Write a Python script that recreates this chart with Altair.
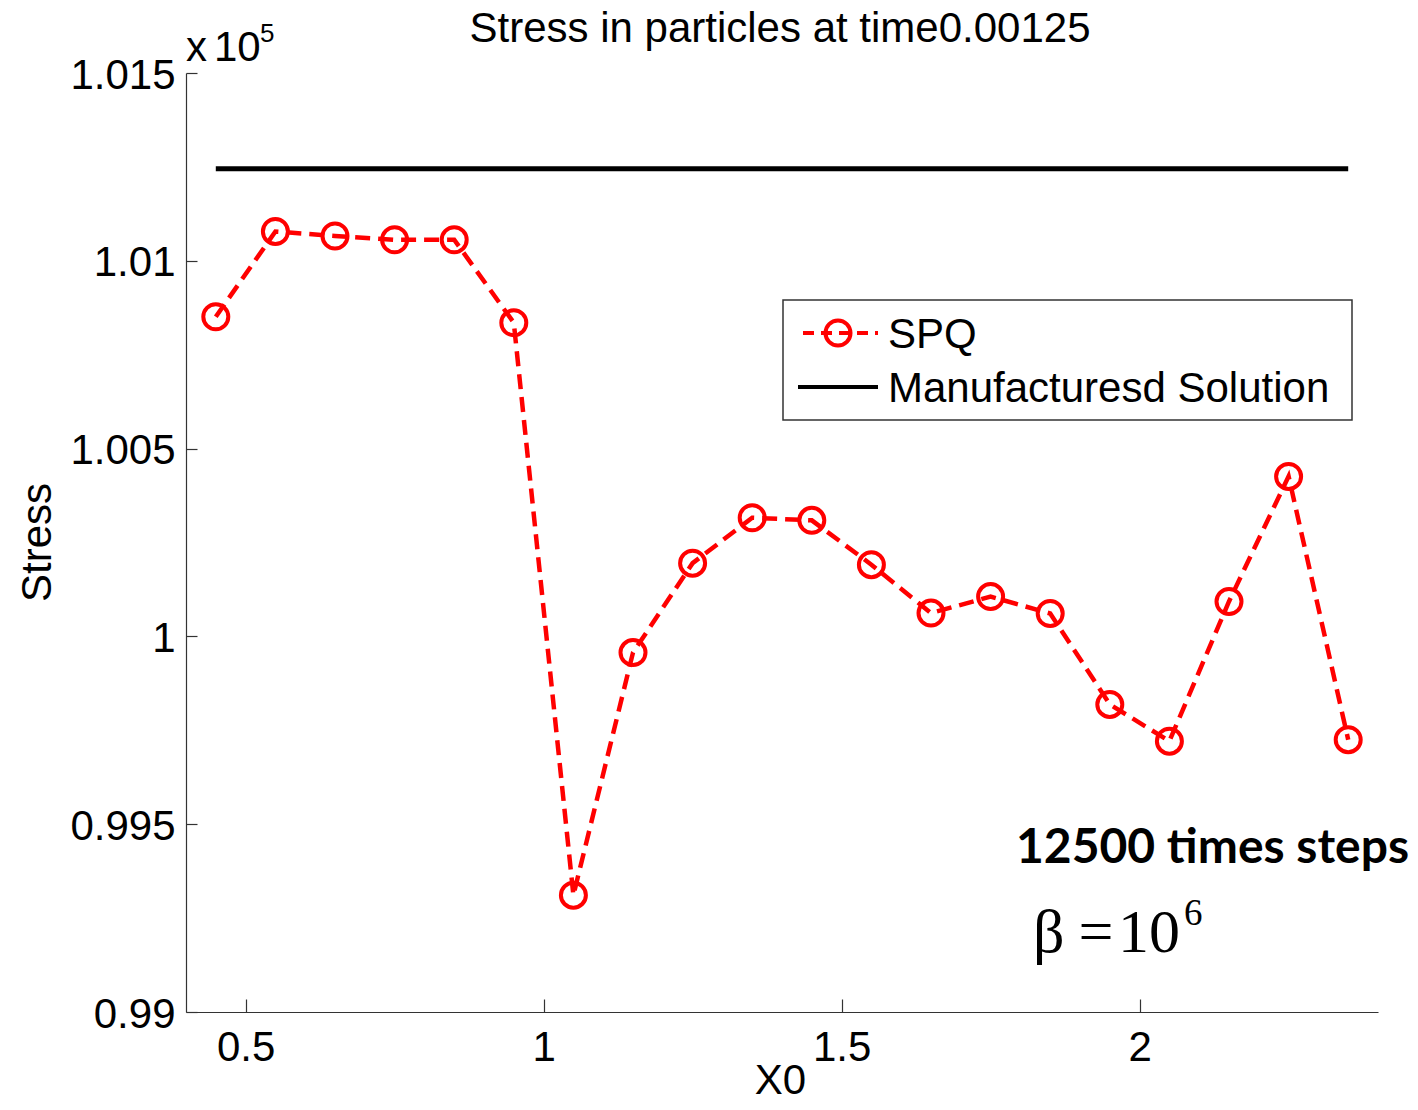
import altair as alt
import pandas as pd

# ---------------- data ----------------
x0 = [0.45, 0.55, 0.65, 0.75, 0.85, 0.95, 1.05, 1.15, 1.25, 1.35,
      1.45, 1.55, 1.65, 1.75, 1.85, 1.95, 2.05, 2.15, 2.25, 2.35]
spq_stress = [100851, 101078, 101066, 101056, 101056, 100835, 99311, 99957, 100195, 100316,
              100309, 100191, 100062, 100106, 100061, 99819, 99721, 100093, 100426, 99725]
manuf_x = [0.45, 2.35]
manuf_stress = [101245, 101245]

x_ticks = [0.5, 1.0, 1.5, 2.0]
y_ticks = [99000, 99500, 100000, 100500, 101000, 101500]

title_text = "Stress in particles at time0.00125"
legend_labels = ["SPQ", "Manufacturesd Solution"]
note_text = "12500 times steps"

# ---------------- layout ----------------
W, H = 1192, 939
FONT = "Liberation Sans"
FS = 42
RED = "#ff0000"
AX = "#333333"

df = pd.DataFrame({"X0": x0, "Stress": spq_stress})
dm = pd.DataFrame({"X0": manuf_x, "Stress": manuf_stress})

xscale = alt.Scale(domain=[0.4, 2.4], nice=False, zero=False)
yscale = alt.Scale(domain=[99000, 101500], nice=False, zero=False)

x_axis = alt.Axis(orient="bottom", values=x_ticks, format="~g", ticks=False, grid=False,
                  domain=True, domainColor=AX, domainWidth=1.2,
                  labelFont=FONT, labelFontSize=FS, labelColor="black",
                  labelBaseline="alphabetic", labelPadding=48, labelFlush=False, labelOverlap=False,
                  title="X0", titleFont=FONT, titleFontSize=FS, titleFontWeight="normal",
                  titleColor="black", titleX=594, titleY=81, titleBaseline="alphabetic",
                  titleAlign="center")
y_axis = alt.Axis(orient="left", values=y_ticks, labelExpr="format(datum.value / 100000, '~g')",
                  ticks=False, grid=False, domain=True, domainColor=AX, domainWidth=1.2,
                  labelFont=FONT, labelFontSize=FS, labelColor="black",
                  labelBaseline="alphabetic", labelOffset=15, labelPadding=11,
                  labelFlush=False, labelOverlap=False,
                  title="Stress", titleFont=FONT, titleFontSize=FS, titleFontWeight="normal",
                  titleColor="black", titleX=-136, titleY=469, titleAngle=270,
                  titleBaseline="alphabetic", titleAlign="center")

x_tick_axis = alt.Axis(orient="bottom", values=x_ticks, offset=-13, ticks=True, tickSize=13,
                       tickColor=AX, tickWidth=1.2, domain=False, labels=False, grid=False, title=None)
y_tick_axis = alt.Axis(orient="left", values=y_ticks, offset=-11, ticks=True, tickSize=11,
                       tickColor=AX, tickWidth=1.2, domain=False, labels=False, grid=False, title=None)

line = alt.Chart(df).mark_line(color=RED, strokeWidth=4.5, strokeDash=[15, 8]).encode(
    x=alt.X("X0:Q", scale=xscale, axis=x_axis),
    y=alt.Y("Stress:Q", scale=yscale, axis=y_axis),
)
points = alt.Chart(df).mark_point(shape="circle", size=625, filled=False, color=RED,
                                  strokeWidth=4, opacity=1).encode(
    x=alt.X("X0:Q", scale=xscale, axis=None),
    y=alt.Y("Stress:Q", scale=yscale, axis=None),
)
manuf = alt.Chart(dm).mark_line(color="black", strokeWidth=5).encode(
    x=alt.X("X0:Q", scale=xscale, axis=None),
    y=alt.Y("Stress:Q", scale=yscale, axis=None),
)
tick_layer = alt.Chart(df).mark_point(opacity=0).encode(
    x=alt.X("X0:Q", scale=xscale, axis=x_tick_axis),
    y=alt.Y("Stress:Q", scale=yscale, axis=y_tick_axis),
)


def txt(s, x, y, size=FS, font=FONT, weight="normal", align="left", baseline="alphabetic"):
    return alt.Chart(pd.DataFrame({"t": [s]})).mark_text(
        font=font, fontSize=size, fontWeight=weight, align=align, baseline=baseline, color="black"
    ).encode(x=alt.value(x), y=alt.value(y), text="t:N")


one = pd.DataFrame({"k": [0]})

legend_box = alt.Chart(one).mark_rect(fill="white", stroke=AX, strokeWidth=1.5).encode(
    x=alt.value(597), x2=alt.value(1166), y=alt.value(227), y2=alt.value(347))
leg_spq_line = alt.Chart(one).mark_rule(color=RED, strokeWidth=4, strokeDash=[11, 7]).encode(
    x=alt.value(617), x2=alt.value(692), y=alt.value(260))
leg_spq_pt = alt.Chart(one).mark_point(shape="circle", size=625, filled=False, color=RED,
                                       strokeWidth=4, opacity=1).encode(
    x=alt.value(652), y=alt.value(260))
leg_man_line = alt.Chart(one).mark_rule(color="black", strokeWidth=4).encode(
    x=alt.value(612), x2=alt.value(692), y=alt.value(314))

layers = [
    manuf, line, points, tick_layer,
    legend_box, leg_spq_line, leg_spq_pt, leg_man_line,
    txt(legend_labels[0], 702, 275),
    txt(legend_labels[1], 702, 329),
    txt(title_text, 594, -31, align="center"),
    txt("x", 0, -12),
    txt("10", 28, -12),
    txt("5", 74, -31, size=26),
    txt(note_text, 830, 790, size=48, font="Lato", weight="bold"),
    txt("β", 847, 879, size=62, font="Liberation Serif"),
    txt("=", 910, 879, size=62, font="Liberation Serif", align="center"),
    txt("10", 932, 879, size=62, font="Liberation Serif"),
    txt("6", 998, 852, size=37, font="Liberation Serif"),
]

chart = alt.layer(*layers).resolve_axis(x="independent", y="independent").properties(
    width=W, height=H,
    padding={"left": 178, "top": 65, "right": 32, "bottom": 88},
    autosize=alt.AutoSizeParams(type="none"),
    background="white",
).configure_view(stroke=None)

chart.save("out.html", embed_options={"renderer": "svg", "actions": False})
